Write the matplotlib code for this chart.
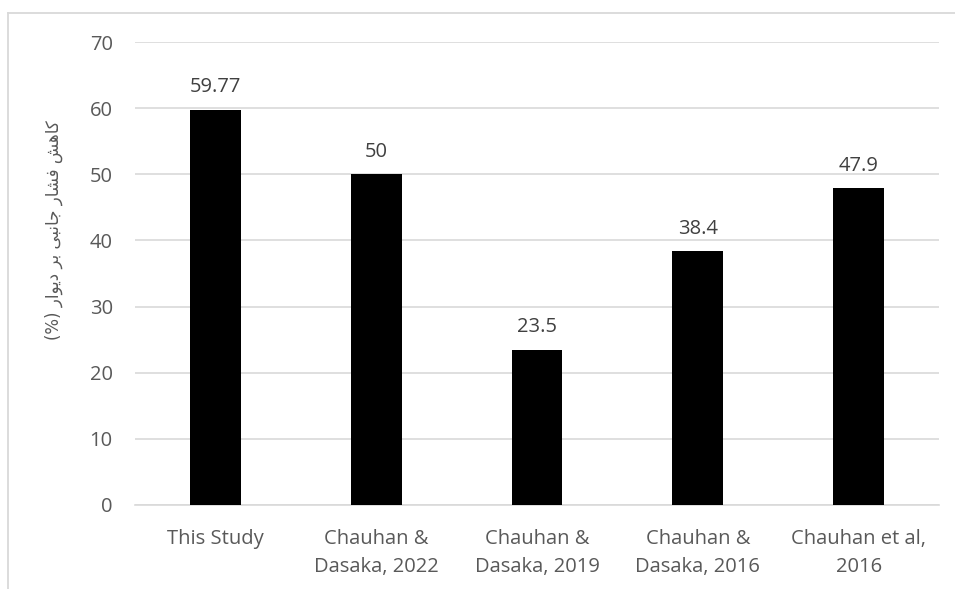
import matplotlib
matplotlib.use("Agg")
import matplotlib.pyplot as plt
from matplotlib.lines import Line2D

categories = ["This Study", "Chauhan &\nDasaka, 2022", "Chauhan &\nDasaka, 2019",
              "Chauhan &\nDasaka, 2016", "Chauhan et al,\n2016"]
values = [59.77, 50, 23.5, 38.4, 47.9]
value_labels = ["59.77", "50", "23.5", "38.4", "47.9"]
yticks = [0, 10, 20, 30, 40, 50, 60, 70]

# Persian axis title in visual (left-to-right) order using Arabic presentation forms:
# "کاهش فشار جانبی بر دیوار (%)"
words_visual = [
    "(%)",
    "\uFEAD\uFE8D\uFEEE\uFBFE\uFEA9",        # دیوار
    "\uFEAE\uFE91",                          # بر
    "\uFBFD\uFE92\uFEE7\uFE8E\uFE9F",        # جانبی
    "\uFEAD\uFE8E\uFEB8\uFED3",              # فشار
    "\uFEB6\uFEEB\uFE8E\uFB90",              # کاهش
]
ylabel = " ".join(words_visual)

W, H = 955, 589
fig = plt.figure(figsize=(W / 100, H / 100), dpi=100)
ax = fig.add_axes([135 / W, 1 - 505 / H, (939 - 135) / W, (505 - 42) / H])

text_color = "#595959"
grid_color = "#d9d9d9"
font = "Open Sans"
fs = 14.5

x = list(range(len(categories)))
ax.bar(x, values, width=0.317, color="black", zorder=3)

for xi, v, lab in zip(x, values, value_labels):
    ax.annotate(lab, (xi, v), xytext=(0, 9), textcoords="offset points",
                ha="center", va="bottom", fontsize=fs, color="#404040",
                family=font)

ax.set_xlim(-0.5, len(categories) - 0.5)
ax.set_ylim(0, 70)
ax.set_yticks(yticks)
ax.set_yticklabels([str(t) for t in yticks], fontsize=fs, color=text_color, family=font)
ax.set_xticks(x)
ax.set_xticklabels(categories, fontsize=fs, color=text_color, family=font,
                   linespacing=1.55, va="top")
ax.tick_params(axis="both", length=0)
ax.tick_params(axis="y", pad=16)
ax.tick_params(axis="x", pad=17)

ax.yaxis.grid(True, color=grid_color, linewidth=1.2, zorder=0)
ax.set_axisbelow(True)
for side in ["top", "right", "left"]:
    ax.spines[side].set_visible(False)
ax.spines["bottom"].set_color(grid_color)
ax.spines["bottom"].set_linewidth(1.2)
ax.spines["bottom"].set_zorder(2)

fig.text(54 / W, 1 - 230 / H, ylabel, rotation=90, ha="center", va="center",
         fontsize=12, color=text_color, family=["DejaVu Sans"])

# chart frame
fig.add_artist(Line2D([8 / W, 1.0], [1 - 13 / H, 1 - 13 / H], transform=fig.transFigure,
                      color=grid_color, linewidth=1.3))
fig.add_artist(Line2D([8 / W, 8 / W], [0.0, 1 - 13 / H], transform=fig.transFigure,
                      color=grid_color, linewidth=1.3))

fig.savefig("out.png", dpi=100)
